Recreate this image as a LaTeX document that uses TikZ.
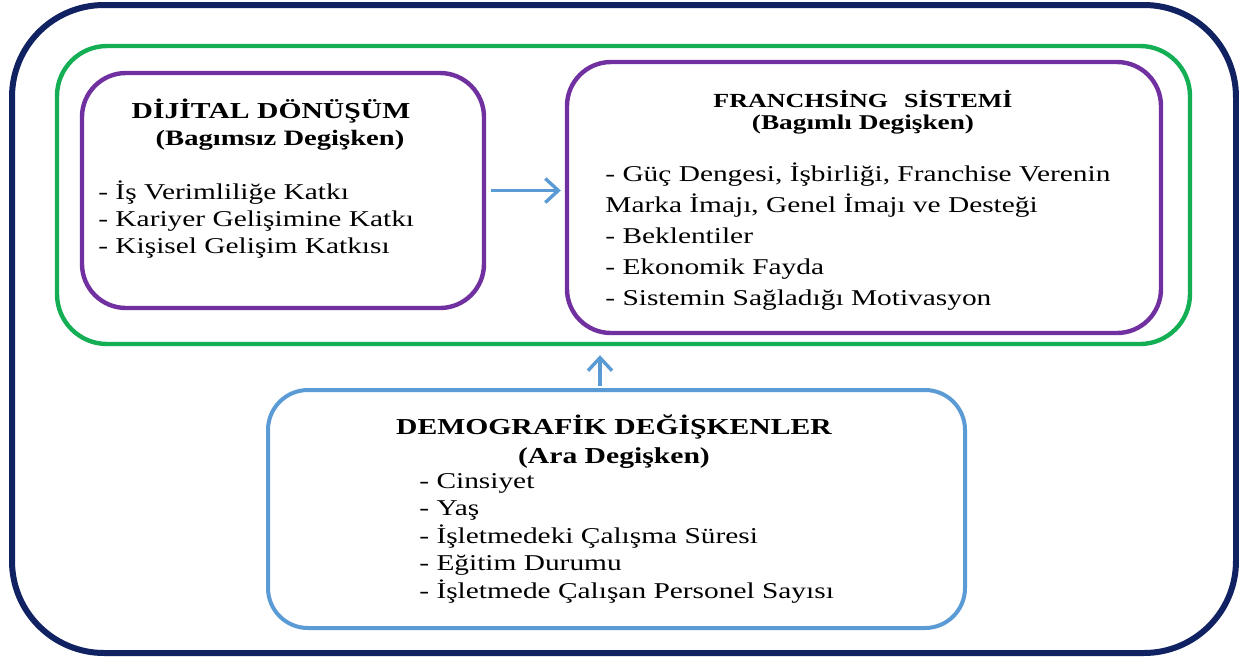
\documentclass[tikz,border=0pt]{standalone}
\usepackage{fontspec}
\setmainfont{Liberation Serif}[FakeStretch=1.3]
\usepackage{tikz}
\usetikzlibrary{arrows.meta,calc,positioning}
\definecolor{navyline}{HTML}{102262}
\definecolor{greenline}{HTML}{14AF55}
\definecolor{purpleline}{HTML}{7030A0}
\definecolor{blueline}{HTML}{5B9BD5}
\tikzstyle{model}=[
  x=0.5pt,y=-0.5pt,font=\fontsize{11.3}{13}\selectfont
]
\tikzstyle{outerbox}=[
  draw=navyline,line width=3pt,rounded corners=46pt,minimum width=612pt,minimum height=324pt
]
\tikzstyle{framebox}=[
  draw=greenline,line width=2.2pt,rounded corners=25pt,minimum width=566.5pt,minimum height=149pt
]
\tikzstyle{varbox}=[
  draw=purpleline,line width=2.2pt,rounded corners=22pt,fill=white
]
\tikzstyle{modbox}=[
  draw=blueline,line width=2pt,rounded corners=20pt,fill=white
]
\tikzstyle{titletext}=[
  anchor=base,inner sep=0pt,font=\bfseries
]
\tikzstyle{itemtext}=[
  anchor=base west,inner sep=0pt
]
\tikzstyle{link}=[
  draw=blueline,line width=1.7pt,-{Straight Barb[length=6.5pt,width=12pt,line width=1.7pt]}
]

\begin{document}
\begin{tikzpicture}[model]
  \path[fill=white] (0,0) rectangle (1239,660);
  \useasboundingbox (0,0) rectangle (1239,660);
  \node (dis) at (624,329) [outerbox] {};
  \node (cerceve) at (623.5,195) [framebox] {};
  \node (dijital) at (283,190.5) [varbox,minimum width=201pt,minimum height=117.5pt] {};
  \node (franchise) at (864,197.5) [varbox,minimum width=297pt,minimum height=135.5pt] {};
  \node (demog) at (616.5,509) [modbox,minimum width=348.5pt,minimum height=119pt] {};

  \node (dijital title) at (271,118) [titletext,font=\bfseries\fontsize{11.4}{14}\selectfont] {DİJİTAL DÖNÜŞÜM};
  \node (dijital sub) at (280,145) [titletext,font=\bfseries\fontsize{11}{13}\selectfont] {(Bagımsız Degişken)};
  \foreach \t [count=\i] in {- İş Verimliliğe Katkı,- Kariyer Gelişimine Katkı,- Kişisel Gelişim Katkısı}
    \node (dijital item \i) at (98,{199+27*(\i-1)}) [itemtext] {\t};

  \node (franchise title) at (863,107) [titletext,font=\bfseries\fontsize{10}{12}\selectfont] {FRANCHSİNG\hspace{0.8em}SİSTEMİ};
  \node (franchise sub) at (863,129) [titletext,font=\bfseries\fontsize{10.5}{12}\selectfont] {(Bagımlı Degişken)};
  \foreach \t [count=\i] in {{- Güç Dengesi, İşbirliği, Franchise Verenin},{Marka İmajı, Genel İmajı ve Desteği},- Beklentiler,- Ekonomik Fayda,- Sistemin Sağladığı Motivasyon}
    \node (franchise item \i) at (605,{181+31*(\i-1)}) [itemtext] {\t};

  \node (demog title) at (614,434) [titletext,font=\bfseries\fontsize{11.4}{13}\selectfont] {DEMOGRAFİK DEĞİŞKENLER};
  \node (demog sub) at (614,463) [titletext,font=\bfseries\fontsize{11.4}{13}\selectfont] {(Ara Degişken)};
  \foreach \t [count=\i] in {- Cinsiyet,- Yaş,- İşletmedeki Çalışma Süresi,- Eğitim Durumu,- İşletmede Çalışan Personel Sayısı}
    \node (demog item \i) at (419,{488+27.5*(\i-1)}) [itemtext] {\t};

  \draw [link,shorten <=2.5pt,shorten >=2pt] (dijital.east) -- (dijital.east -| franchise.west);
  \draw [link,shorten <=1pt,shorten >=4.5pt] ([xshift=-8.25pt]demog.north) -- ([xshift=-8.25pt]demog.north |- cerceve.south);
\end{tikzpicture}
\end{document}
